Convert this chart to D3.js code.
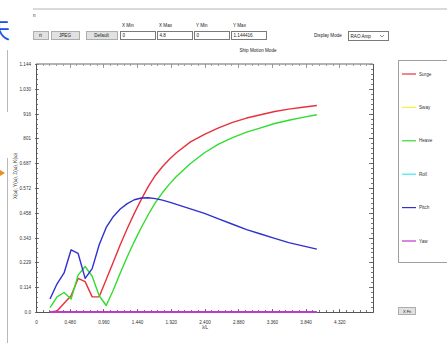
<!DOCTYPE html>
<html>
<head>
<meta charset="utf-8">
<script src="https://cdn.jsdelivr.net/npm/d3@7"></script>
<style>
  html, body { margin: 0; padding: 0; background: #ffffff; }
  svg { display: block; font-family: "Liberation Sans", "DejaVu Sans", sans-serif; }
</style>
</head>
<body>
<svg id="chart" width="447" height="343"></svg>
<script>
// Wave length ratio λ/L at which the RAO amplitudes were computed
const lambdaL = [0.2, 0.3, 0.4, 0.5, 0.6, 0.7, 0.8, 0.9, 1.0, 1.1, 1.2, 1.3, 1.4, 1.5,
                 1.6, 1.7, 1.8, 1.9, 2.0, 2.2, 2.4, 2.6, 2.8, 3.0, 3.2, 3.4, 3.6, 3.8, 4.0];

// Ship motion RAO amplitudes, one array per degree of freedom
const surge = [0.0, 0.005, 0.04, 0.075, 0.155, 0.14, 0.07, 0.07, 0.15, 0.23, 0.31, 0.385, 0.455, 0.52,
               0.58, 0.63, 0.67, 0.705, 0.735, 0.785, 0.82, 0.85, 0.875, 0.895, 0.91, 0.925, 0.936, 0.945, 0.953];
const sway  = [0, 0, 0, 0, 0, 0, 0, 0, 0, 0, 0, 0, 0, 0, 0, 0, 0, 0, 0, 0, 0, 0, 0, 0, 0, 0, 0, 0, 0];
const heave = [0.02, 0.07, 0.09, 0.06, 0.17, 0.21, 0.165, 0.075, 0.03, 0.10, 0.18, 0.255, 0.325, 0.39,
               0.45, 0.505, 0.55, 0.59, 0.625, 0.685, 0.735, 0.775, 0.805, 0.83, 0.85, 0.87, 0.885, 0.898, 0.91];
const roll  = [0, 0, 0, 0, 0, 0, 0, 0, 0, 0, 0, 0, 0, 0, 0, 0, 0, 0, 0, 0, 0, 0, 0, 0, 0, 0, 0, 0, 0];
const pitch = [0.06, 0.13, 0.18, 0.287, 0.27, 0.155, 0.2, 0.31, 0.39, 0.44, 0.475, 0.50, 0.518, 0.526,
               0.527, 0.523, 0.516, 0.507, 0.497, 0.476, 0.455, 0.43, 0.405, 0.38, 0.36, 0.34, 0.32, 0.305, 0.29];
const yaw   = [0, 0, 0, 0, 0, 0, 0, 0, 0, 0, 0, 0, 0, 0, 0, 0, 0, 0, 0, 0, 0, 0, 0, 0, 0, 0, 0, 0, 0];

const seriesNames  = ["Surge", "Sway", "Heave", "Roll", "Pitch", "Yaw"];
const seriesValues = [surge, sway, heave, roll, pitch, yaw];
const seriesColors = ["#e8303c", "#f2f23c", "#30dc30", "#3ce8f0", "#3030d0", "#c038c8"];

// Axis settings shown in the control row
const xMin = 0, xMax = 4.8, yMin = 0, yMax = 1.144416;
const xTickValues = [0, 0.48, 0.96, 1.44, 1.92, 2.40, 2.88, 3.36, 3.84, 4.32];
const xTickLabels = ["0", "0.480", "0.960", "1.440", "1.920", "2.400", "2.880", "3.360", "3.840", "4.320"];
const yTickValues = [0, 0.1144416, 0.2288832, 0.3433248, 0.4577664, 0.572208, 0.6866496, 0.8010912, 0.9155328, 1.0299744, 1.144416];
const yTickLabels = ["0.0", "0.114", "0.229", "0.343", "0.458", "0.572", "0.687", "801", "916", "1.030", "1.144"];

const svg = d3.select("#chart");
const W = 447, H = 343;
const plot = { left: 36, right: 373, top: 64, bottom: 312 };

const x = d3.scaleLinear().domain([xMin, xMax]).range([plot.left, plot.right]);
const y = d3.scaleLinear().domain([yMin, yMax]).range([plot.bottom, plot.top]);

const small = 4.6;

// ---- window chrome ----------------------------------------------------------
svg.append("text").attr("x", -12).attr("y", 38).attr("font-size", 22)
  .attr("fill", "#2050e8").attr("font-family", "Noto Sans CJK SC").text("天");
svg.append("line").attr("x1", 33).attr("x2", W).attr("y1", 9).attr("y2", 9)
  .attr("stroke", "#b4b4b4").attr("stroke-width", 1);
svg.append("text").attr("x", 33).attr("y", 17).attr("font-size", small).attr("fill", "#333").text("n");
svg.append("line").attr("x1", 7.5).attr("x2", 7.5).attr("y1", 50).attr("y2", 112)
  .attr("stroke", "#b8b8b8");
svg.append("line").attr("x1", 7.5).attr("x2", 7.5).attr("y1", 158).attr("y2", 343)
  .attr("stroke", "#b8b8b8");
svg.append("path").attr("d", "M0,170 L5,173 L0,176 Z").attr("fill", "#f08c1e");

// buttons
const buttons = [
  { label: "rt", x0: 33, x1: 48 },
  { label: "JPEG", x0: 51, x1: 79 },
  { label: "Default", x0: 86, x1: 117 }
];
buttons.forEach(b => {
  svg.append("rect").attr("x", b.x0 + 0.5).attr("y", 31.5).attr("width", b.x1 - b.x0).attr("height", 8)
    .attr("fill", "#e1e1e1").attr("stroke", "#adadad");
  svg.append("text").attr("x", (b.x0 + b.x1) / 2).attr("y", 37.3).attr("text-anchor", "middle")
    .attr("font-size", small).attr("fill", "#222").text(b.label);
});

// axis range boxes
const boxes = [
  { caption: "X Min", value: String(xMin), x0: 120 },
  { caption: "X Max", value: String(xMax), x0: 157 },
  { caption: "Y Min", value: String(yMin), x0: 194 },
  { caption: "Y Max", value: String(yMax), x0: 231 }
];
boxes.forEach(b => {
  svg.append("text").attr("x", b.x0 + 2).attr("y", 27).attr("font-size", small).attr("fill", "#222").text(b.caption);
  svg.append("rect").attr("x", b.x0 + 0.5).attr("y", 31.5).attr("width", 35).attr("height", 8)
    .attr("fill", "#fff").attr("stroke", "#7a7a7a");
  svg.append("text").attr("x", b.x0 + 2.5).attr("y", 37.3).attr("font-size", small).attr("fill", "#222").text(b.value);
});

// display mode selector
svg.append("text").attr("x", 314).attr("y", 37).attr("font-size", small).attr("fill", "#222").text("Display Mode");
svg.append("rect").attr("x", 348.5).attr("y", 31.5).attr("width", 40).attr("height", 9)
  .attr("fill", "#fff").attr("stroke", "#7a7a7a");
svg.append("text").attr("x", 350.5).attr("y", 37.6).attr("font-size", small).attr("fill", "#222").text("RAO Amp");
svg.append("path").attr("d", "M380,35 L382,37 L384,35").attr("fill", "none").attr("stroke", "#444").attr("stroke-width", 0.6);

// chart title
svg.append("text").attr("x", 258).attr("y", 52).attr("text-anchor", "middle")
  .attr("font-size", small).attr("fill", "#222").text("Ship Motion Mode");

// ---- axes --------------------------------------------------------------------
const minorX = d3.range(0, 51).map(i => i * 0.096);
const minorY = d3.range(0, 51).map(i => i * yMax / 50);

function tickMarks(values, scale, horiz, pos, dir, len, color) {
  const g = svg.append("g");
  values.forEach(v => {
    const p = Math.round(scale(v)) + 0.5;
    if (horiz) {
      g.append("line").attr("x1", p).attr("x2", p).attr("y1", pos).attr("y2", pos + dir * len)
        .attr("stroke", color).attr("stroke-width", 0.8);
    } else {
      g.append("line").attr("y1", p).attr("y2", p).attr("x1", pos).attr("x2", pos + dir * len)
        .attr("stroke", color).attr("stroke-width", 0.8);
    }
  });
}

const axisCol = "#555";
// minor and major ticks pointing into the plot on all four sides
tickMarks(minorX, x, true, plot.bottom, -1, 2, axisCol);
tickMarks(xTickValues.concat([4.8]), x, true, plot.bottom + 1, -1, 4, axisCol);
tickMarks(minorX, x, true, plot.top, 1, 2, "#888");
tickMarks(xTickValues.concat([4.8]), x, true, plot.top, 1, 4, "#888");
tickMarks(minorY, y, false, plot.left, 1, 2, axisCol);
tickMarks(yTickValues, y, false, plot.left - 1, 1, 4, axisCol);
tickMarks(minorY, y, false, plot.right, -1, 2, axisCol);
tickMarks(yTickValues, y, false, plot.right, -1, 4, axisCol);

// frame
svg.append("line").attr("x1", plot.left).attr("x2", plot.right).attr("y1", plot.top).attr("y2", plot.top)
  .attr("stroke", "#9a9a9a").attr("stroke-width", 1.6);
svg.append("line").attr("x1", plot.left + 0.5).attr("x2", plot.left + 0.5).attr("y1", plot.top).attr("y2", plot.bottom)
  .attr("stroke", axisCol).attr("stroke-width", 1);
svg.append("line").attr("x1", plot.right + 0.5).attr("x2", plot.right + 0.5).attr("y1", plot.top).attr("y2", plot.bottom)
  .attr("stroke", axisCol).attr("stroke-width", 1);
svg.append("line").attr("x1", plot.left).attr("x2", plot.right).attr("y1", plot.bottom + 0.5).attr("y2", plot.bottom + 0.5)
  .attr("stroke", axisCol).attr("stroke-width", 1);

// tick labels
const xAxis = d3.axisBottom(x).tickValues(xTickValues).tickSize(0)
  .tickFormat((d, i) => xTickLabels[i]);
const gx = svg.append("g").attr("transform", `translate(0,${plot.bottom + 6})`).call(xAxis);
gx.select(".domain").remove();
gx.selectAll("text").attr("font-size", small).attr("fill", "#333").attr("font-family", "Liberation Sans");

const yAxis = d3.axisLeft(y).tickValues(yTickValues).tickSize(0)
  .tickFormat((d, i) => yTickLabels[i]);
const gy = svg.append("g").attr("transform", `translate(${plot.left - 2},0)`).call(yAxis);
gy.select(".domain").remove();
gy.selectAll("text").attr("font-size", small).attr("fill", "#333").attr("font-family", "Liberation Sans");

// axis titles
svg.append("text").attr("x", 205).attr("y", 329).attr("text-anchor", "middle")
  .attr("font-size", small).attr("fill", "#333").text("λ/L");
svg.append("text").attr("transform", "translate(17,176) rotate(-90)").attr("text-anchor", "middle")
  .attr("font-size", small).attr("fill", "#333").text("X(ω), Y(ω), Z(ω), K(ω)");

// ---- data lines ----------------------------------------------------------------
const line = d3.line().x(d => x(d[0])).y(d => y(d[1]));
seriesValues.forEach((vals, i) => {
  const pts = lambdaL.map((l, j) => [l, vals[j]]);
  svg.append("path").datum(pts).attr("d", line)
    .attr("fill", "none").attr("stroke", seriesColors[i]).attr("stroke-width", i === 5 ? 1.8 : 1.4)
    .attr("stroke-linejoin", "round");
});

// ---- legend --------------------------------------------------------------------
svg.append("rect").attr("x", 398.5).attr("y", 60.5).attr("width", 60).attr("height", 202)
  .attr("fill", "#fff").attr("stroke", "#a0a0a0");
const legendY = d3.scalePoint().domain(seriesNames).range([74, 241]);
seriesNames.forEach((name, i) => {
  const ly = legendY(name);
  svg.append("line").attr("x1", 402).attr("x2", 416).attr("y1", ly).attr("y2", ly)
    .attr("stroke", seriesColors[i]).attr("stroke-width", 1.2);
  svg.append("text").attr("x", 419).attr("y", ly + 1.6).attr("font-size", small).attr("fill", "#333").text(name);
});

// fit button
svg.append("rect").attr("x", 398.5).attr("y", 307.5).attr("width", 17).attr("height", 7)
  .attr("fill", "#e1e1e1").attr("stroke", "#adadad");
svg.append("text").attr("x", 407).attr("y", 312.7).attr("text-anchor", "middle")
  .attr("font-size", 4).attr("fill", "#222").text("X Fit");
</script>
</body>
</html>
